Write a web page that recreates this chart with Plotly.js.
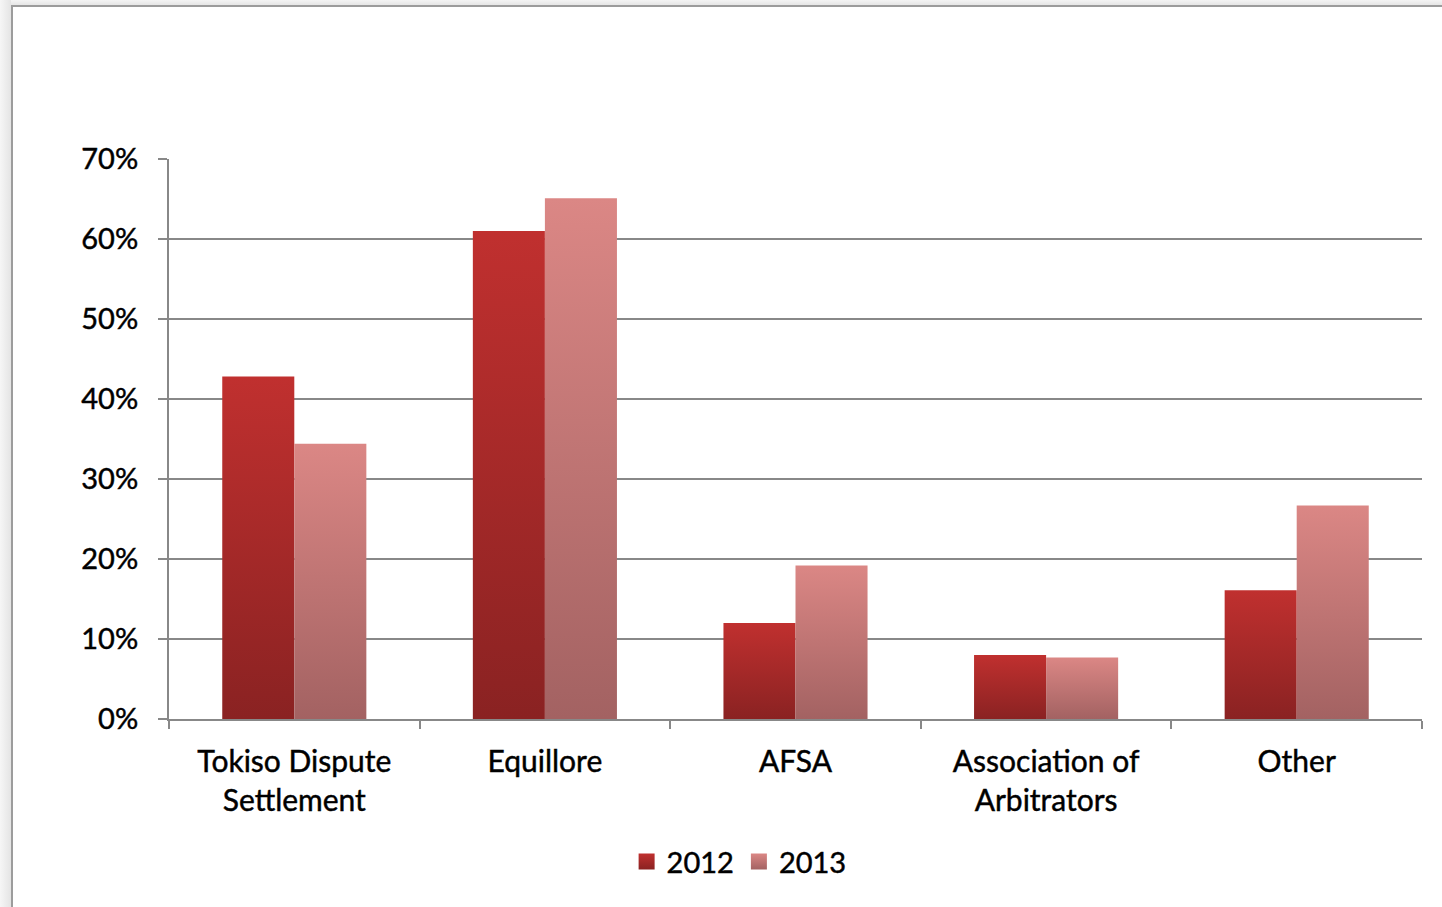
<!DOCTYPE html>
<html>
<head>
<meta charset="utf-8">
<script src="https://cdn.plot.ly/plotly-3.0.1.min.js"></script>
<style>
  html, body { margin: 0; padding: 0; background: #ffffff; overflow: hidden; }
  #chart { position: absolute; left: 0; top: 0; width: 1442px; height: 907px; }
  #chart text { stroke: #000; stroke-width: 0.45px; }
  .strip-top { position: absolute; left: 0; top: 0; width: 1442px; height: 5px; background: linear-gradient(#f4f4f4, #e6e6e6); pointer-events: none; }
  .strip-left { position: absolute; left: 0; top: 0; width: 11px; height: 907px; background: linear-gradient(90deg, #f6f6f6, #e4e4e4); pointer-events: none; }
  .frame { position: absolute; left: 11px; top: 5px; width: 1431px; height: 902px; border-left: 2px solid #9c9c9c; border-top: 2px solid #9c9c9c; box-sizing: border-box; pointer-events: none; }
</style>
</head>
<body>
<div id="chart"></div>
<div class="strip-top"></div>
<div class="strip-left"></div>
<div class="frame"></div>
<script>
const categories = ["Tokiso Dispute<br>Settlement", "Equillore", "AFSA", "Association of<br>Arbitrators", "Other"];
const seriesNames = ["2012", "2013"];
const values2012 = [0.428, 0.610, 0.120, 0.080, 0.161];
const values2013 = [0.344, 0.651, 0.192, 0.077, 0.267];
const yTickVals = [0, 0.1, 0.2, 0.3, 0.4, 0.5, 0.6, 0.7];

const FONT = "Lato, 'Open Sans', sans-serif";

const traces = [
  { type: "bar", name: seriesNames[0], x: categories, y: values2012,
    marker: { color: "#a52929", line: { width: 0 } }, hoverinfo: "none" },
  { type: "bar", name: seriesNames[1], x: categories, y: values2013,
    marker: { color: "#c07474", line: { width: 0 } }, hoverinfo: "none" }
];

const layout = {
  width: 1442, height: 907,
  margin: { l: 169, r: 20, t: 159, b: 188, autoexpand: false },
  paper_bgcolor: "#ffffff", plot_bgcolor: "#ffffff",
  font: { family: FONT, size: 29, color: "#000" },
  barmode: "group", bargap: 0.425, bargroupgap: 0,
  showlegend: true,
  legend: { orientation: "h", x: 0.455, xanchor: "center", y: 0.05, yanchor: "middle",
            yref: "container", font: { family: FONT, size: 29, color: "#000" },
            traceorder: "normal", tracegroupgap: 0 },
  xaxis: {
    type: "category", showgrid: false, zeroline: false, automargin: false,
    showline: true, linecolor: "#888888", linewidth: 2,
    ticks: "outside", tickson: "boundaries", ticklen: 8, tickcolor: "#888888", tickwidth: 2,
    tickfont: { family: FONT, size: 30, color: "#000" }, ticklabelstandoff: 15
  },
  yaxis: {
    range: [0, 0.7], tickvals: yTickVals, tickformat: ".0%", automargin: false,
    showgrid: true, gridcolor: "#888888", gridwidth: 2, zeroline: false,
    showline: true, linecolor: "#888888", linewidth: 2,
    ticks: "outside", ticklen: 9, tickcolor: "#888888", tickwidth: 2,
    tickfont: { family: FONT, size: 29, color: "#000" }, ticklabelstandoff: 14
  }
};

const gradients = [
  { id: "grad2012", top: "#c0302f", bottom: "#8a2222" },
  { id: "grad2013", top: "#db8785", bottom: "#a36262" }
];

function applyGradients(gd) {
  const svg = gd.querySelector(".main-svg");
  let defs = svg.querySelector("defs");
  if (!defs) { defs = document.createElementNS("http://www.w3.org/2000/svg", "defs"); svg.insertBefore(defs, svg.firstChild); }
  gradients.forEach(g => {
    if (defs.querySelector("#" + g.id)) return;
    const lg = document.createElementNS("http://www.w3.org/2000/svg", "linearGradient");
    lg.setAttribute("id", g.id);
    lg.setAttribute("x1", "0"); lg.setAttribute("y1", "0");
    lg.setAttribute("x2", "0"); lg.setAttribute("y2", "1");
    [["0", g.top], ["1", g.bottom]].forEach(([o, c]) => {
      const s = document.createElementNS("http://www.w3.org/2000/svg", "stop");
      s.setAttribute("offset", o); s.setAttribute("stop-color", c);
      lg.appendChild(s);
    });
    defs.appendChild(lg);
  });
  const barTraces = gd.querySelectorAll(".barlayer .trace.bars");
  barTraces.forEach((t, i) => {
    t.querySelectorAll(".point path").forEach(p => { p.style.fill = "url(#" + gradients[i].id + ")"; });
  });
  const legendTraces = gd.querySelectorAll(".legend .traces");
  legendTraces.forEach((t, i) => {
    t.querySelectorAll(".legendpoints path").forEach(p => {
      p.style.fill = "url(#" + gradients[i].id + ")";
      p.setAttribute("d", "M8,8H-8V-8H8Z");
    });
  });
}

Plotly.newPlot("chart", traces, layout, { displayModeBar: false, staticPlot: true }).then(gd => {
  applyGradients(gd);
});
</script>
</body>
</html>
